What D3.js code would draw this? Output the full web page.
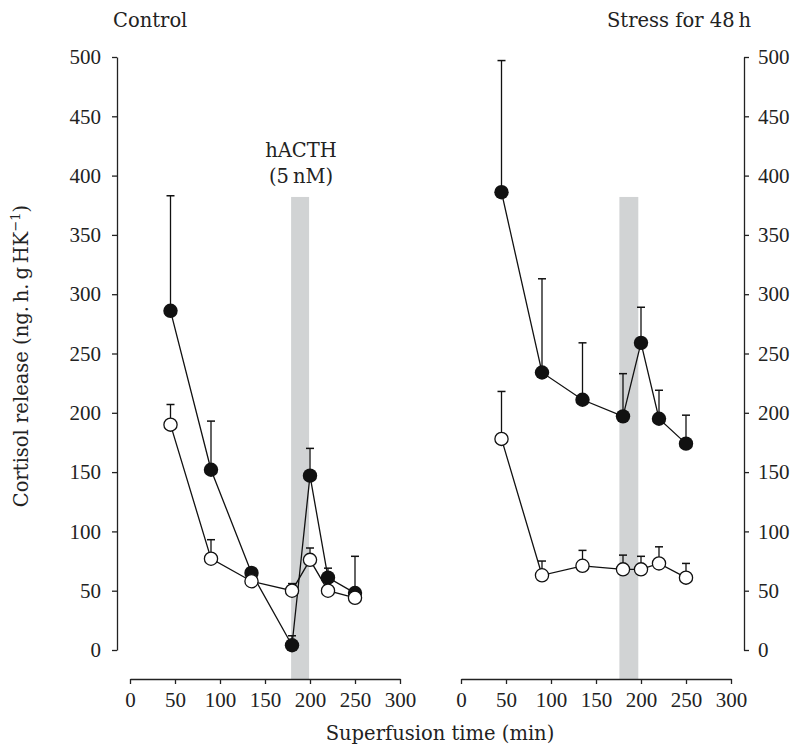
<!DOCTYPE html>
<html>
<head>
<meta charset="utf-8">
<script src="https://cdn.jsdelivr.net/npm/d3@7"></script>
<style>
  body { margin: 0; background: #fff; }
  .word { font-family: 'DejaVu Serif', serif; font-size: 19.5px; fill: #222; }
  .axis text { font-family: 'Liberation Serif', serif; font-size: 21px; fill: #222; }
  .axis path, .axis line { stroke: #222; stroke-width: 1.3; }
</style>
</head>
<body>
<div id="viz"></div>
<script>
// sampling times (min), same for every series
const times = [45, 90, 135, 180, 200, 220, 250];

// control panel
const controlFilled = [286, 152, 65, 4, 147, 61, 48];
const controlFilledErr = [97, 41, 0, 8, 23, 8, 31];
const controlOpen = [190, 77, 58, 50, 76, 50, 44];
const controlOpenErr = [17, 16, 0, 6, 10, 0, 0];

// stress for 48 h panel
const stressFilled = [386, 234, 211, 197, 259, 195, 174];
const stressFilledErr = [111, 79, 48, 36, 30, 24, 24];
const stressOpen = [178, 63, 71, 68, 68, 73, 61];
const stressOpenErr = [40, 12, 13, 12, 11, 14, 12];

// hACTH perfusion windows (min) and height of the shaded band
const controlBar = [179, 199];
const stressBar = [176, 197];
const barTop = 382;

const xTicks = [0, 50, 100, 150, 200, 250, 300];
const yTicks = [0, 50, 100, 150, 200, 250, 300, 350, 400, 450, 500];

const width = 797, height = 750;
const axisY = 679;

const svg = d3.select('#viz').append('svg')
  .attr('width', width)
  .attr('height', height);

const yScale = d3.scaleLinear().domain([0, 500]).range([650, 57]);

const panels = [
  { x: d3.scaleLinear().domain([0, 300]).range([130, 400]), bar: controlBar,
    filled: controlFilled, filledErr: controlFilledErr, open: controlOpen, openErr: controlOpenErr },
  { x: d3.scaleLinear().domain([0, 300]).range([461, 731]), bar: stressBar,
    filled: stressFilled, filledErr: stressFilledErr, open: stressOpen, openErr: stressOpenErr }
];

panels.forEach((p) => {
  const g = svg.append('g');

  // shaded hACTH band, runs down to the x axis
  g.append('rect')
    .attr('x', p.x(p.bar[0]))
    .attr('width', p.x(p.bar[1]) - p.x(p.bar[0]))
    .attr('y', yScale(barTop))
    .attr('height', axisY - yScale(barTop))
    .attr('fill', '#d1d3d4');

  g.append('g')
    .attr('class', 'axis')
    .attr('transform', 'translate(0,' + axisY + ')')
    .call(d3.axisBottom(p.x).tickValues(xTicks).tickSize(5).tickSizeOuter(0).tickPadding(8));

  const series = [
    { vals: p.filled, err: p.filledErr, fill: '#111' },
    { vals: p.open, err: p.openErr, fill: '#fff' }
  ];

  series.forEach((s) => {
    const pts = times.map((t, i) => ({ t: t, v: s.vals[i], e: s.err[i] }));

    const eb = g.append('g').selectAll('.err')
      .data(pts.filter((d) => d.e > 0))
      .enter().append('g');
    eb.append('line')
      .attr('x1', (d) => p.x(d.t)).attr('x2', (d) => p.x(d.t))
      .attr('y1', (d) => yScale(d.v)).attr('y2', (d) => yScale(d.v + d.e))
      .attr('stroke', '#111').attr('stroke-width', 1.3);
    eb.append('line')
      .attr('x1', (d) => p.x(d.t) - 4).attr('x2', (d) => p.x(d.t) + 4)
      .attr('y1', (d) => yScale(d.v + d.e)).attr('y2', (d) => yScale(d.v + d.e))
      .attr('stroke', '#111').attr('stroke-width', 1.5);

    const line = d3.line()
      .x((d) => p.x(d.t))
      .y((d) => yScale(d.v));

    g.append('path')
      .datum(pts)
      .attr('fill', 'none')
      .attr('stroke', '#111')
      .attr('stroke-width', 1.3)
      .attr('d', line);

    g.append('g').selectAll('circle')
      .data(pts)
      .enter().append('circle')
      .attr('cx', (d) => p.x(d.t))
      .attr('cy', (d) => yScale(d.v))
      .attr('r', s.fill === '#fff' ? 6.6 : 7.2)
      .attr('fill', s.fill)
      .attr('stroke', '#111')
      .attr('stroke-width', s.fill === '#fff' ? 1.3 : 0);
  });
});

svg.append('g')
  .attr('class', 'axis')
  .attr('transform', 'translate(117,0)')
  .call(d3.axisLeft(yScale).tickValues(yTicks).tickSize(5).tickSizeOuter(0).tickPadding(11));

svg.append('g')
  .attr('class', 'axis')
  .attr('transform', 'translate(744,0)')
  .call(d3.axisRight(yScale).tickValues(yTicks).tickSize(5).tickSizeOuter(0).tickPadding(9));

svg.selectAll('.axis .domain').attr('stroke-width', 1.3);

// panel titles and annotation
svg.append('text').attr('class', 'word').attr('x', 113).attr('y', 27).text('Control');
svg.append('text').attr('class', 'word').attr('x', 751).attr('y', 27)
  .attr('text-anchor', 'end').text('Stress for 48\u2009h');
svg.append('text').attr('class', 'word').attr('x', 301).attr('y', 157)
  .attr('text-anchor', 'middle').text('hACTH');
svg.append('text').attr('class', 'word').attr('x', 301).attr('y', 183)
  .attr('text-anchor', 'middle').text('(5\u2009nM)');

svg.append('text').attr('class', 'word')
  .attr('x', 440).attr('y', 740)
  .attr('text-anchor', 'middle')
  .text('Superfusion time (min)');

const yLab = svg.append('text').attr('class', 'word')
  .attr('transform', 'translate(28,356) rotate(-90)')
  .attr('text-anchor', 'middle');
yLab.append('tspan').text('Cortisol release (ng.\u2009h.\u2009g\u2009HK');
yLab.append('tspan').attr('dy', -8).style('font-size', '13px').text('\u22121');
yLab.append('tspan').attr('dy', 8).text(')');
</script>
</body>
</html>
